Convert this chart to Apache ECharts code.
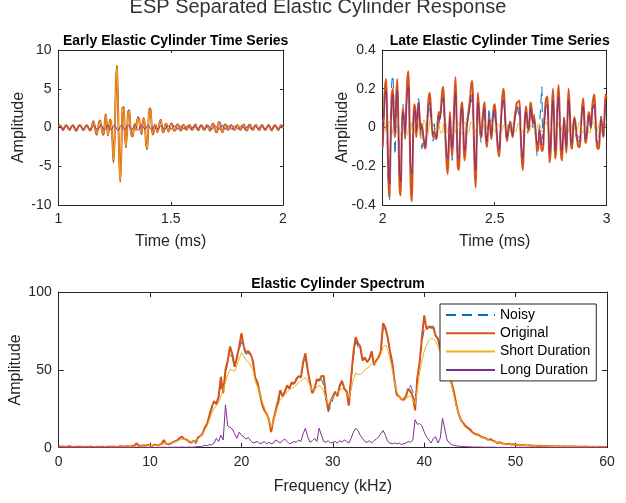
<!DOCTYPE html>
<html>
<head>
<meta charset="utf-8">
<script src="https://cdn.jsdelivr.net/npm/echarts@6/dist/echarts.min.js"></script>
<style>
  html, body {margin: 0; padding: 0; background: #fff;}
  #chart {width: 626px; height: 503px;}
</style>
</head>
<body>
<div id="chart"></div>
<script>
// ---- data ----
const seriesNames = ['Noisy', 'Original', 'Short Duration', 'Long Duration'];
const colors = ['#0072BD', '#D95319', '#EDB120', '#7E2F8E'];

// early window: t = 1 .. 2 ms, step 0.005 ms
const earlyStart = 1, earlyStep = 0.005;
const earlyNoisy = [
  0.2,0.3,0.1,-0.1,-0.4,-0.1,0.3,0.3,0,-0.2,
  -0.3,0.1,0.2,0.4,0,-0.3,-0.5,-0.1,0.3,0.3,
  0.1,-0.1,-0.4,-0.2,0.2,0.3,0.1,-0.2,-0.5,-0.2,
  0.4,0.8,0.3,-0.5,-1.0,-0.2,0.7,0.9,0.1,-0.6,
  -1.0,0.3,1.7,0.5,-1.0,-0.1,1.0,0.4,-1.5,-4.4,
  -1.6,5.0,7.9,3.1,-3.5,-6.9,-3.1,2.5,2.7,-0.5,
  -2.6,-0.7,2.0,2.3,0.1,-1.0,-1.2,-0.1,0.5,-0.4,
  0.8,1.4,0.8,-0.3,-0.9,0.7,1.2,0.3,-2.0,-2.7,
  -0.1,2.5,2.4,0.2,-0.9,-0.5,0.4,0.2,-0.7,-0.2,
  0.6,1.1,0.2,-0.6,-0.6,0.4,0.5,-0.2,-0.5,-0.1,
  0.4,
  0.6,0.1,-0.5,-0.4,0.2,0.4,0.2,-0.2,-0.5,-0.1,
  0.4,0.3,-0.2,-0.3,0,0.2,0.4,0,-0.4,-0.2,
  0.3,0.4,0,-0.3,-0.4,0.1,0.4,0.2,-0.3,-0.3,
  0.1,0.3,0.1,-0.2,-0.5,-0.1,0.4,0.6,0,-0.5,
  -0.7,0.1,0.7,0.6,-0.3,-0.7,-0.2,0.4,0.4,-0.1,
  -0.3,-0.1,0.2,0.4,0.1,-0.3,-0.3,0.1,0.3,0.2,
  -0.2,-0.3,0,0.2,0.5,0.1,-0.4,-0.4,0.1,0.4,
  0.3,-0.2,-0.3,-0.1,0.2,0.4,0,-0.2,-0.4,0,
  0.3,0.3,-0.1,-0.4,-0.2,0.1,0.4,0.2,-0.3,-0.4,
  -0.1,0.3,0.3,0,-0.2,-0.4,0.1,0.3,0.3,-0.1
];
const earlyOriginal = [
  0.1,0.3,0.2,-0.1,-0.3,-0.1,0.2,0.3,0.1,-0.2,
  -0.3,0,0.2,0.3,0,-0.3,-0.4,-0.1,0.2,0.3,
  0.2,-0.1,-0.3,-0.2,0.1,0.3,0.2,-0.2,-0.4,-0.2,
  0.3,0.8,0.4,-0.5,-0.9,-0.2,0.6,0.9,0.2,-0.6,
  -0.9,0.2,1.7,0.6,-1.0,-0.2,1.0,0.5,-1.5,-4.5,
  -1.5,5.0,8.0,3.0,-3.5,-7.0,-3.0,2.5,2.6,-0.5,
  -2.5,-0.8,2.0,2.2,0.2,-1.0,-1.1,-0.2,0.5,-0.3,
  0.8,1.3,0.9,-0.3,-0.8,0.7,1.2,0.2,-2.0,-2.8,
  0,2.5,2.3,0.3,-0.9,-0.6,0.4,0.1,-0.6,-0.2,
  0.6,1.0,0.3,-0.6,-0.5,0.3,0.5,-0.1,-0.5,-0.2,
  0.4,
  0.5,0.1,-0.4,-0.4,0.1,0.4,0.3,-0.2,-0.4,-0.1,
  0.3,0.3,-0.1,-0.3,-0.1,0.2,0.3,0,-0.3,-0.2,
  0.2,0.4,0.1,-0.3,-0.3,0.1,0.3,0.2,-0.2,-0.3,
  0,0.3,0.2,-0.2,-0.4,-0.1,0.4,0.5,0,-0.5,
  -0.6,0.1,0.7,0.5,-0.3,-0.6,-0.2,0.3,0.4,0,
  -0.3,-0.2,0.2,0.3,0.1,-0.2,-0.3,0,0.3,0.2,
  -0.1,-0.3,-0.1,0.2,0.4,0.1,-0.3,-0.4,0,0.4,
  0.3,-0.1,-0.3,-0.2,0.2,0.3,0.1,-0.2,-0.3,0,
  0.3,0.2,-0.1,-0.3,-0.2,0.1,0.3,0.2,-0.2,-0.4,
  -0.1,0.2,0.3,0.1,-0.2,-0.3,0,0.3,0.2,-0.1
];
const earlyShort = [
  0.1,0.2,0.2,-0.1,-0.2,-0.1,0.2,0.2,0.1,-0.2,
  -0.2,0,0.2,0.2,0,-0.2,-0.3,-0.1,0.2,0.2,
  0.2,-0.1,-0.2,-0.2,0.1,0.2,0.2,-0.1,-0.3,-0.2,
  0.3,0.7,0.4,-0.4,-0.8,-0.2,0.5,0.8,0.2,-0.5,
  -0.8,0.2,1.5,0.6,-0.9,-0.2,0.9,0.5,-1.4,-4.2,
  -1.4,4.8,7.6,2.9,-3.3,-6.7,-2.9,2.4,2.5,-0.5,
  -2.4,-0.8,1.9,2.1,0.2,-1.0,-1.0,-0.2,0.5,-0.3,
  0.7,1.2,0.8,-0.3,-0.7,0.6,1.1,0.2,-1.9,-2.6,
  0,2.3,2.2,0.3,-0.8,-0.6,0.4,0.1,-0.5,-0.2,
  0.5,0.9,0.3,-0.5,-0.5,0.3,0.4,-0.1,-0.4,-0.2,
  0.3,
  0.4,0.1,-0.3,-0.3,0.1,0.3,0.3,-0.2,-0.3,-0.1,
  0.2,0.3,-0.1,-0.2,-0.1,0.2,0.2,0,-0.2,-0.2,
  0.2,0.3,0.1,-0.2,-0.3,0.1,0.2,0.2,-0.2,-0.2,
  0,0.2,0.2,-0.2,-0.3,-0.1,0.3,0.4,0,-0.4,
  -0.5,0.1,0.6,0.4,-0.3,-0.5,-0.2,0.3,0.3,0,
  -0.2,-0.2,0.2,0.2,0.1,-0.2,-0.2,0,0.2,0.2,
  -0.1,-0.2,-0.1,0.2,0.3,0.1,-0.2,-0.3,0,0.3,
  0.2,-0.1,-0.2,-0.2,0.2,0.2,0.1,-0.2,-0.2,0,
  0.2,0.2,-0.1,-0.2,-0.2,0.1,0.2,0.2,-0.2,-0.3,
  -0.1,0.2,0.2,0.1,-0.2,-0.2,0,0.2,0.2,-0.1
];
const earlyLong = [
  0.1,0.2,0.1,-0.1,-0.2,-0.1,0.1,0.2,0.1,-0.1,
  -0.2,-0.1,0.1,0.2,0.1,-0.1,-0.2,-0.1,0.1,0.2,
  0.1,-0.1,-0.2,-0.1,0.1,0.2,0.1,-0.1,-0.2,-0.2,
  0,0.2,0.2,0,-0.2,-0.3,-0.1,0.2,0.3,0.1,
  -0.2,-0.3,-0.1,0.2,0.3,0.1,-0.2,-0.3,-0.1,0.2,
  0.3,0.1,-0.2,-0.4,-0.2,0.1,0.3,0.2,-0.1,-0.3,
  -0.2,0.1,0.3,0.2,-0.1,-0.3,-0.2,0.1,0.3,0.2,
  -0.1,-0.3,-0.2,0.1,0.3,0.2,-0.1,-0.2,-0.1,0.2,
  0.3,0.1,-0.2,-0.3,-0.1,0.2,0.2,0,-0.2,-0.2,
  0,0.2,0.2,0,-0.2,-0.2,0,0.2,0.2,0,
  -0.2,
  -0.2,0,0.2,0.2,0,-0.2,-0.2,0,0.2,0.1,
  -0.1,-0.2,-0.1,0.1,0.2,0.1,-0.1,-0.2,-0.1,0.1,
  0.2,0.1,-0.1,-0.2,-0.1,0.1,0.2,0.1,-0.1,-0.2,
  -0.1,0.1,0.2,0.2,0,-0.2,-0.2,0,0.2,0.2,
  0,-0.2,-0.3,0,0.2,0.3,0,-0.2,-0.2,0,
  0.2,0.2,0,-0.2,-0.2,0,0.2,0.1,-0.1,-0.2,
  -0.1,0.1,0.2,0.1,-0.1,-0.2,-0.1,0.1,0.2,0.1,
  -0.1,-0.2,-0.1,0.1,0.2,0.1,-0.1,-0.2,-0.1,0.1,
  0.2,0.1,-0.1,-0.2,-0.1,0.1,0.2,0.1,-0.1,-0.2,
  -0.1,0.1,0.2,0.1,-0.1,-0.2,-0.1,0.1,0.2,0.1
];

// late window: t = 2 .. 3 ms, step 0.005 ms
const lateStart = 2, lateStep = 0.005;
const lateNoisy = [
  -0.12,0.08,0.2,0.18,-0.05,-0.3,-0.38,-0.05,0.22,0.27,
  0.1,-0.14,0.05,0.2,0.05,-0.22,-0.3,-0.1,0.12,0.02,
  -0.06,0.12,0.2,0.22,-0.02,-0.25,-0.28,-0.04,0.1,0.06,
  0.01,0.1,0.15,0.03,-0.05,-0.11,-0.05,-0.1,-0.12,0,
  0.07,0.12,0.1,0.04,0.03,-0.07,0.02,-0.06,-0.02,0.03,
  0.08,0.02,0.1,0.16,0.12,0.05,-0.06,-0.15,-0.18,-0.05,
  0.06,-0.08,-0.17,0,0.13,0.16,0,-0.18,-0.14,-0.01,
  0.1,0.08,-0.04,-0.15,-0.08,0.03,0.06,0.1,0.14,0.13,
  0.18,0,-0.16,-0.2,-0.06,0.15,0.06,-0.03,-0.08,0.04,
  0.1,0.08,-0.06,-0.05,0.01,0.1,0.02,-0.07,0.05,0.09,
  0.06,0,-0.06,-0.12,-0.1,-0.01,0.08,0.1,0.16,0.05,
  -0.04,-0.07,0.01,0.04,0,-0.04,-0.03,0.03,0.06,0.09,
  0.12,0.08,0.06,-0.03,-0.14,-0.14,-0.04,0.07,0.1,0.01,
  -0.04,0.05,0.12,0.04,0,0.07,-0.02,-0.08,-0.15,-0.06,
  0.02,0.1,0.21,-0.06,0.03,0.05,0.13,0.1,-0.03,-0.15,
  -0.06,0.08,0.12,0.02,-0.14,-0.04,0.11,0.14,0.03,-0.1,
  -0.14,-0.02,0.06,-0.06,-0.08,0.06,0.12,0.04,-0.08,-0.06,
  0.01,0.06,0,-0.05,-0.04,-0.09,-0.05,0.02,0.09,0.1,
  0.02,-0.08,-0.02,0.03,0.08,0.02,-0.02,0.09,0.1,0.13,
  0.02,-0.05,-0.1,-0.06,0.01,0.06,-0.02,-0.06,0.06,0.1,0.12
];
const lateOriginal = [
  -0.10,0.05,0.20,0.25,0.05,-0.25,-0.36,-0.10,0.15,0.20,
  0.05,-0.05,0.15,0.25,0.00,-0.30,-0.35,-0.05,0.10,0.05,
  -0.05,0.10,0.25,0.29,0.00,-0.30,-0.38,-0.10,0.12,0.10,
  -0.05,0.05,0.13,0.05,-0.02,0.02,-0.03,-0.08,-0.11,-0.05,
  0.05,0.15,0.18,0.10,0.00,-0.05,-0.02,-0.05,-0.06,0.00,
  0.08,0.05,0.10,0.18,0.21,0.10,-0.05,-0.18,-0.24,-0.10,
  0.08,-0.05,-0.15,-0.05,0.15,0.26,0.05,-0.20,-0.22,-0.05,
  0.10,0.13,-0.02,-0.17,-0.12,0.00,0.05,0.10,0.15,0.22,
  0.24,0.05,-0.20,-0.31,-0.05,0.18,0.10,-0.02,-0.05,0.03,
  0.10,0.13,-0.05,-0.10,-0.02,0.05,0.00,-0.06,0.03,0.10,
  0.12,0.05,-0.05,-0.12,-0.15,-0.05,0.08,0.17,0.20,0.10,
  -0.02,-0.07,-0.03,0.01,0.03,-0.02,-0.05,0.00,0.06,0.10,
  0.13,0.13,0.14,0.00,-0.15,-0.22,-0.10,0.05,0.11,0.04,
  -0.02,0.03,0.13,0.10,0.03,0.06,0.02,-0.06,-0.12,-0.10,
  -0.02,-0.05,-0.12,-0.12,0.00,0.10,0.15,0.16,0.00,-0.18,
  -0.12,0.08,0.20,0.05,-0.16,-0.10,0.12,0.22,0.08,-0.12,
  -0.17,-0.05,0.05,-0.05,-0.13,0.05,0.20,0.10,-0.08,-0.11,
  -0.02,0.05,0.03,-0.04,-0.08,-0.10,-0.10,0.00,0.10,0.15,
  0.05,-0.08,-0.06,0.02,0.08,0.05,0.00,0.10,0.15,0.17,
  0.05,-0.08,-0.11,-0.11,-0.02,0.05,0.00,-0.05,0.05,0.17,0.15
];
const lateShort = [
  0.03,0.05,0.02,-0.02,-0.03,0,0.03,0.04,0.01,-0.03,
  -0.04,0,0.04,0.05,0.02,-0.02,-0.04,-0.01,0.03,0.04,
  0.01,-0.03,-0.04,0,0.03,0.03,0,-0.03,-0.03,0,
  0.03,0.04,0.01,-0.03,-0.05,-0.02,0.02,0.04,0.02,-0.02,
  -0.04,-0.01,0.03,0.05,0.02,-0.02,-0.04,-0.02,0.02,0.04,
  0.03,-0.01,-0.03,-0.03,0,0.03,0.03,0,-0.03,-0.03,
  0,0.03,0.03,0,-0.03,-0.02,0.01,0.03,0.02,-0.01,
  -0.03,-0.02,0.01,0.03,0.02,-0.01,-0.03,-0.02,0.01,0.03,
  0.02,-0.01,-0.03,-0.02,0.01,0.03,0.02,-0.01,-0.03,-0.02,
  0.01,0.03,0.02,-0.01,-0.03,-0.02,0.01,0.02,0.02,-0.01,
  -0.02,-0.01,0.01,0.02,0.01,-0.01,-0.02,-0.01,0.01,0.02,
  0.02,0,-0.02,-0.02,0,0.02,0.02,0,-0.02,-0.02,
  0,0.02,0.02,0,-0.02,-0.02,0,0.02,0.02,0,
  -0.02,-0.02,0,0.02,0.02,0,-0.02,-0.02,0,0.02,
  0.02,0,-0.02,-0.02,0,0.02,0.03,0.01,-0.02,-0.03,
  -0.01,0.02,0.03,0.01,-0.02,-0.03,-0.01,0.02,0.03,0.01,
  -0.02,-0.03,-0.01,0.02,0.03,0.01,-0.02,-0.03,-0.01,0.02,
  0.03,0.01,-0.02,-0.03,-0.01,0.02,0.03,0.01,-0.02,-0.03,
  -0.01,0.02,0.03,0.01,-0.02,-0.03,-0.01,0.02,0.03,0.01,
  -0.02,-0.03,-0.01,0.02,0.03,0.01,-0.02,-0.03,-0.01,0.02,0.03
];
const lateLong = [
  -0.08,0.05,0.16,0.19,0.03,-0.2,-0.29,-0.1,0.12,0.17,
  0.05,-0.03,0.12,0.19,0.02,-0.22,-0.28,-0.06,0.08,0.05,
  -0.03,0.08,0.18,0.21,0.02,-0.2,-0.24,-0.08,0.08,0.09,
  -0.02,0.06,0.13,0.06,-0.01,0.01,-0.03,-0.07,-0.1,-0.05,
  0.04,0.11,0.13,0.08,0.01,-0.04,-0.02,-0.04,-0.05,0,
  0.06,0.04,0.08,0.13,0.15,0.08,-0.03,-0.12,-0.16,-0.07,
  0.05,-0.04,-0.1,-0.03,0.1,0.18,0.04,-0.14,-0.16,-0.04,
  0.07,0.1,-0.01,-0.12,-0.09,0,0.04,0.07,0.11,0.16,
  0.17,0.04,-0.14,-0.22,-0.04,0.13,0.08,-0.01,-0.04,0.02,
  0.07,0.1,-0.03,-0.07,-0.02,0.04,0,-0.04,0.02,0.07,
  0.09,0.04,-0.03,-0.09,-0.11,-0.04,0.06,0.12,0.14,0.07,
  -0.01,-0.05,-0.02,0.01,0.02,-0.01,-0.04,0,0.04,0.07,
  0.09,0.1,0.1,0,-0.11,-0.16,-0.07,0.04,0.08,0.03,
  -0.01,0.02,0.1,0.07,0.02,0.04,0.01,-0.04,-0.09,-0.07,
  -0.01,-0.04,-0.09,-0.09,0,0.07,0.11,0.12,0,-0.13,
  -0.09,0.06,0.14,0.04,-0.12,-0.07,0.09,0.16,0.06,-0.09,
  -0.12,-0.04,0.04,-0.04,-0.1,0.04,0.14,0.07,-0.06,-0.08,
  -0.01,0.04,0.02,-0.03,-0.06,-0.07,-0.07,0,0.07,0.11,
  0.04,-0.06,-0.04,0.01,0.06,0.04,0,0.07,0.11,0.12,
  0.04,-0.06,-0.08,-0.08,-0.01,0.04,0,-0.04,0.04,0.12,0.11
];

// spectrum: f = 0 .. 60 kHz, step 0.25 kHz (one row per kHz)
const freqStart = 0, freqStep = 0.25;
const specNoisy = [
  0.8,0.7,0.6,0.6, 0.8,0.7,0.5,0.7, 0.6,0.7,0.5,0.5, 0.7,0.6,0.6,0.5,
  0.6,0.5,0.5,0.6, 0.6,0.5,0.7,0.6, 0.6,0.6,0.7,0.8, 0.8,0.7,0.8,0.8,
  0.9,1.1,2.2,1.3, 1.2,1.4,1.3,1.6, 1.5,1.3,1.8,1.5, 1.7,2.2,4.2,2.5,
  2.3,2.7,3.3,4.0, 4.6,6.0,6.6,5.4, 5.0,4.2,3.0,2.8, 2.5,6.0,7.2,8.8,
  12.5,15,20,25, 28.5,28,32,40, 36,47,55,60, 58,52,57,63,
  68,63,60,61, 58,55,46,41, 35,29,25,21, 17,12,17,23,
  28,35,34,36, 39,38,41,41, 43,46,45,53, 57,49,41,36,
  38,42,43,44, 40,30,23,26, 31,35,34,39, 42,38,37,32,
  44,58,68,65, 63,56,57,56, 57,60,54,56, 58,62,77,76,
  70,61,53,42, 34,32,31,31, 33,37,40,36, 30,45,55,68,
  76,75,77,78, 78,73,69,64, 60,57,54,49, 40,35,27,22,
  18,15.5,14,12.5, 11.5,10,9,8.5, 7.8,7,6.5,5.8, 5,5.2,4.4,3.8,
  3,3.3,2.8,2.5, 2.3,2.4,2,2.1, 1.9,1.8,1.6,1.7, 1.5,1.4,1.5,1.3,
  1.2,1.2,1.1,1.1, 1,1,0.9,1, 0.9,0.9,0.8,0.9, 0.8,0.8,0.7,0.8,
  0.7,0.7,0.7,0.6, 0.7,0.6,0.6,0.6, 0.6,0.5,0.6,0.5, 0.5,0.5,0.5,0.5,
  0.4
];
const specOriginal = [
  1.0,0.6,0.8,0.5, 0.7,0.9,0.4,0.6, 0.5,0.8,0.6,0.4, 0.6,0.5,0.7,0.4,
  0.5,0.6,0.4,0.7, 0.5,0.4,0.8,0.6, 0.7,0.5,0.6,0.9, 0.8,0.6,0.9,0.7,
  1.0,1.2,2.8,1.4, 1.1,1.5,1.3,1.8, 1.6,1.2,2.0,1.5, 1.8,2.4,5.0,2.6,
  2.2,2.8,3.5,4.2, 4.8,6.5,7.0,5.5, 5.2,4.0,3.2,4.5, 3.8,6.5,7.5,9.0,
  13,15.5,21,26, 30,28,33,45.5, 35,50,56,65, 60,52,58,65,
  73.5,65,61,62, 60,56,45,42, 35,28,24,22, 18,10,18,24,
  30,37,33,36, 40,38,42,41, 44,46,45,55, 60.6,50,42,35,
  38,44,43,46, 46,33,24,30, 33,36,33,40, 43,38,36,27,
  45,61,71,67, 65,56,58,55, 57,62,53,56, 58,62,80,77,
  71,62,55,43, 34,33,31,31, 33,38,36,33, 24,45,55,71,
  85,76,78,77, 77,72,70,64, 61,58,55,50, 41.5,36,28,22,
  18,16,14,13, 12,10,9,8.5, 8,7,6.5,6, 5,5.5,4.5,4,
  3,3.5,2.8,2.5, 2.3,2.5,2,2.2, 2,1.8,1.6,1.8, 1.5,1.4,1.6,1.3,
  1.2,1.3,1.1,1.2, 1,1.1,0.9,1, 0.9,1,0.8,0.9, 0.8,0.9,0.7,0.8,
  0.7,0.8,0.7,0.6, 0.7,0.6,0.7,0.6, 0.6,0.5,0.6,0.5, 0.5,0.6,0.5,0.5,
  0.4
];
const specShort = [
  0.3,0.3,0.3,0.3, 0.3,0.3,0.3,0.3, 0.3,0.3,0.3,0.3, 0.3,0.3,0.3,0.3,
  0.3,0.3,0.3,0.3, 0.3,0.3,0.4,0.4, 0.4,0.4,0.4,0.4, 0.4,0.4,0.5,0.5,
  0.5,0.6,1.0,0.8, 0.9,1.0,1.1,1.2, 1.3,1.4,1.5,1.6, 1.8,2.0,2.4,2.6,
  2.8,3.0,3.4,3.9, 4.3,5.0,5.5,5.3, 5.0,4.5,4.0,4.2, 4.5,5.5,7.0,9.0,
  11.5,14,18,22, 25,27,29,33, 37,42,47,50, 50,49,53,57,
  61,59,56,55, 53,50,43,39, 35,30,26,22, 18,13,17,22,
  27,31,32,34, 36,37,38,39, 40,42,43,44, 45,43,40,37,
  37,39,40,39, 36,32,28,30, 32,34,35,37, 38,37,35,32,
  37,44,48,47, 47,48,50,51, 52,54,54,55, 57,60,65,66,
  63,57,50,42, 36,33,31,30, 31,33,33,31, 28,38,48,56,
  62,66,69,70, 70,68,65,61, 57,54,51,47, 40,33,27,22,
  18,15,13,12, 10.5,9.5,8.5,8, 7.5,6.8,6.2,5.6, 5,4.6,4.2,3.8,
  3.4,3.1,2.8,2.6, 2.4,2.2,2,1.9, 1.8,1.7,1.6,1.5, 1.4,1.4,1.3,1.3,
  1.2,1.2,1.1,1.1, 1,1,0.9,0.9, 0.9,0.8,0.8,0.8, 0.7,0.7,0.7,0.7,
  0.6,0.6,0.6,0.6, 0.6,0.5,0.5,0.5, 0.5,0.5,0.5,0.5, 0.5,0.4,0.4,0.4,
  0.4
];
const specLong = [
  0.2,0.1,0.2,0.1, 0.1,0.2,0.1,0.1, 0.2,0.1,0.1,0.2, 0.1,0.1,0.2,0.1,
  0.1,0.2,0.1,0.1, 0.2,0.1,0.1,0.2, 0.1,0.2,0.1,0.1, 0.2,0.1,0.2,0.1,
  0.2,0.1,0.2,0.2, 0.1,0.2,0.2,0.1, 0.2,0.2,0.1,0.2, 0.2,0.2,0.3,0.2,
  0.2,0.3,0.2,0.3, 0.3,0.3,0.4,0.3, 0.3,0.4,0.3,0.4, 0.5,0.8,0.6,1.0,
  1.5,1.2,2.0,1.8, 3.0,6.0,4.0,8.0, 5.0,27.5,14,13, 12,9,6,10,
  8,7,5.5,6.5, 4.5,3,3.5,4, 2.5,3,4,2.5, 3.5,2.5,3,5,
  4,3,4.5,5.5, 4,2.5,3,4, 3.5,5,4,9, 12.5,7,3.5,4.5,
  6,4,12.5,8, 4,3.5,4.5,3, 3.5,4,3,4.5, 3.5,5,4,3,
  6,10,12.5,11, 8,6,4,3.5, 4.5,3,4.5,5.5, 7,9,11,8,
  4,3,2.5,3, 2.5,3,2,2.5, 3,4,3.5,5, 18,15,15.5,14,
  10,7,5,3, 6,7,3,6, 19,12,5,3, 2,1.5,1.2,1,
  0.9,0.8,0.7,0.6, 0.5,0.5,0.4,0.4, 0.4,0.4,0.3,0.3, 0.3,0.3,0.3,0.3,
  0.2,0.2,0.2,0.2, 0.2,0.2,0.2,0.2, 0.2,0.2,0.2,0.2, 0.1,0.1,0.1,0.1,
  0.1,0.1,0.1,0.1, 0.1,0.1,0.1,0.1, 0.1,0.1,0.1,0.1, 0.1,0.1,0.1,0.1,
  0.1,0.1,0.1,0.1, 0.1,0.1,0.1,0.1, 0.1,0.1,0.1,0.1, 0.1,0.1,0.1,0.1,
  0.1
];

// ---- chart ----
const FONT = 'Liberation Sans';
const AX = '#262626';

function pairs(vals, x0, dx) {
  return vals.map((v, i) => [+(x0 + i * dx).toFixed(4), v]);
}

function xAxisFor(gi, min, max, interval, name, tickLen, top) {
  return {
    type: 'value', gridIndex: gi, min, max, interval,
    position: top ? 'top' : 'bottom',
    name: top ? '' : name, nameLocation: 'middle', nameGap: gi === 2 ? 31 : 29,
    nameMoveOverlap: false,
    nameTextStyle: {fontFamily: FONT, fontSize: 16, color: AX},
    axisLine: {show: true, onZero: false, lineStyle: {color: AX, width: 1}},
    axisTick: {show: true, inside: true, length: tickLen, lineStyle: {color: AX}},
    axisLabel: {show: !top, margin: 7, fontFamily: FONT, fontSize: 14, color: AX},
    splitLine: {show: false}
  };
}

function yAxisFor(gi, min, max, interval, tickLen, right) {
  return {
    type: 'value', gridIndex: gi, min, max, interval,
    position: right ? 'right' : 'left',
    name: right ? '' : 'Amplitude', nameLocation: 'middle',
    nameGap: gi === 2 ? 35 : 32, nameRotate: 90, nameMoveOverlap: false,
    nameTextStyle: {fontFamily: FONT, fontSize: 16, color: AX},
    axisLine: {show: true, onZero: false, lineStyle: {color: AX, width: 1}},
    axisTick: {show: true, inside: true, length: tickLen, lineStyle: {color: AX}},
    axisLabel: {show: !right, margin: 7, fontFamily: FONT, fontSize: 14, color: AX},
    splitLine: {show: false}
  };
}

function lineSeries(k, axisIdx, data, smooth) {
  return {
    type: 'line', name: seriesNames[k],
    xAxisIndex: axisIdx, yAxisIndex: axisIdx,
    data, symbol: 'none', smooth: smooth ? 0.35 : false,
    lineStyle: {
      color: colors[k],
      width: k === 1 ? 2 : 1,
      type: k === 0 ? [10, 6] : 'solid'
    },
    itemStyle: {color: colors[k]}
  };
}

const chart = echarts.init(document.getElementById('chart'), null, {renderer: 'canvas'});

const series = [];
[earlyNoisy, earlyOriginal, earlyShort, earlyLong].forEach((vals, k) =>
  series.push(lineSeries(k, 0, pairs(vals, earlyStart, earlyStep), true)));
[lateNoisy, lateOriginal, lateShort, lateLong].forEach((vals, k) =>
  series.push(lineSeries(k, 1, pairs(vals, lateStart, lateStep), true)));
[specNoisy, specOriginal, specShort, specLong].forEach((vals, k) =>
  series.push(lineSeries(k, 2, pairs(vals, freqStart, freqStep), false)));

chart.setOption({
  animation: false,
  backgroundColor: '#fff',
  title: [
    {text: 'ESP Separated Elastic Cylinder Response', left: 313, top: -8, textAlign: 'center',
      textStyle: {fontFamily: FONT, fontSize: 20, fontWeight: 'normal', color: '#333'}},
    {text: 'Early Elastic Cylinder Time Series', left: 170.7, top: 29, textAlign: 'center',
      textStyle: {fontFamily: FONT, fontSize: 14, fontWeight: 'bold', color: '#000'}},
    {text: 'Late Elastic Cylinder Time Series', left: 494.7, top: 29, textAlign: 'center',
      textStyle: {fontFamily: FONT, fontSize: 14, fontWeight: 'bold', color: '#000'}},
    {text: 'Elastic Cylinder Spectrum', left: 332.9, top: 272, textAlign: 'center',
      textStyle: {fontFamily: FONT, fontSize: 14, fontWeight: 'bold', color: '#000'}}
  ],
  legend: {
    data: seriesNames, orient: 'vertical', left: 440, top: 304,
    itemWidth: 49, itemHeight: 14, itemGap: 4.3,
    padding: [4, 6, 4, 5],
    borderColor: AX, borderWidth: 1, borderRadius: 0, backgroundColor: '#fff',
    itemStyle: {opacity: 0},
    textStyle: {fontFamily: FONT, fontSize: 14, color: '#000'},
    selectedMode: false
  },
  grid: [
    {left: 58.5, top: 50, width: 224.5, height: 155, containLabel: false, outerBoundsMode: 'none'},
    {left: 382.7, top: 50, width: 224, height: 155, containLabel: false, outerBoundsMode: 'none'},
    {left: 58.7, top: 292, width: 548.3, height: 155.7, containLabel: false, outerBoundsMode: 'none'}
  ],
  xAxis: [
    xAxisFor(0, 1, 2, 0.5, 'Time (ms)', 3, false),
    xAxisFor(1, 2, 3, 0.5, 'Time (ms)', 3, false),
    xAxisFor(2, 0, 60, 10, 'Frequency (kHz)', 5, false),
    xAxisFor(0, 1, 2, 0.5, '', 3, true),
    xAxisFor(1, 2, 3, 0.5, '', 3, true),
    xAxisFor(2, 0, 60, 10, '', 5, true)
  ],
  yAxis: [
    yAxisFor(0, -10, 10, 5, 3, false),
    yAxisFor(1, -0.4, 0.4, 0.2, 3, false),
    yAxisFor(2, 0, 100, 50, 5, false),
    yAxisFor(0, -10, 10, 5, 3, true),
    yAxisFor(1, -0.4, 0.4, 0.2, 3, true),
    yAxisFor(2, 0, 100, 50, 5, true)
  ],
  series
});
</script>
</body>
</html>
